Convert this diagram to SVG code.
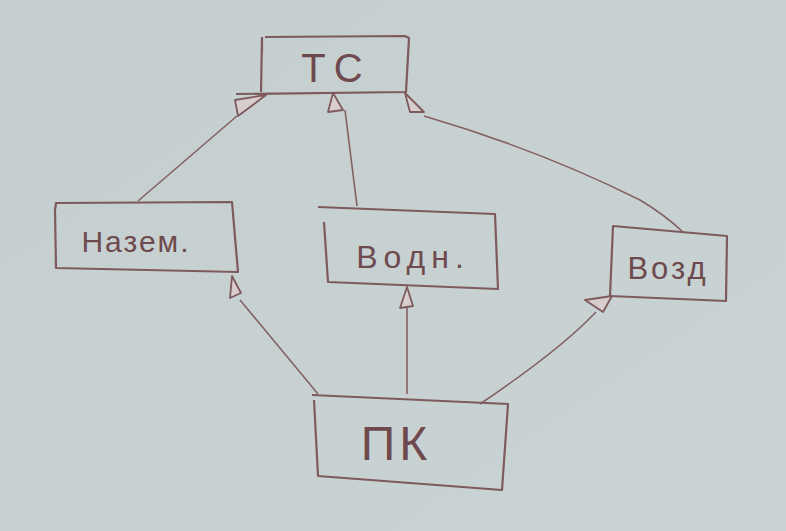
<svg xmlns="http://www.w3.org/2000/svg" width="786" height="531" viewBox="0 0 786 531">
<defs>
<style>
.box{fill:none;stroke:#7e5a5d;stroke-width:2.2;stroke-linejoin:round}
.ln{fill:none;stroke:#846163;stroke-width:1.6}
.tri{fill:#d8cdcf;stroke:#7e5a5d;stroke-width:1.8;stroke-linejoin:round}
.lbl{font-family:"Liberation Sans","DejaVu Sans",sans-serif;fill:#6e4a4e;text-anchor:middle}
</style>
<linearGradient id="bg" x1="0" y1="0" x2="1" y2="1">
<stop offset="0" stop-color="#c6cfcf"/>
<stop offset="1" stop-color="#c9d3d3"/>
</linearGradient>
</defs>
<rect width="786" height="531" fill="url(#bg)"/>

<g id="connectors">
<path class="ln" d="M237 116 L138 201"/>
<path class="tri" d="M235 100 L266 95 L238 116 Z"/>
<path class="ln" d="M345 110 L357 206"/>
<path class="tri" d="M333 93 L328 112 L343 110 Z"/>
<path class="ln" d="M424 116 Q540 150 640 200 Q665 215 683 232"/>
<path class="tri" d="M405 93 L410 112 L424 112 Z"/>
<path class="ln" d="M240 300 L318 394"/>
<path class="tri" d="M232 276 L230 298 L241 293 Z"/>
<path class="ln" d="M407 394 L407 307"/>
<path class="tri" d="M407 287 L400 308 L413 306 Z"/>
<path class="ln" d="M480 404 Q560 350 596 312"/>
<path class="tri" d="M612 296 L585 300 L603 312 Z"/>
</g>

<g id="node-ts">
<path class="box" d="M262 38 L261 92 M262 52 L262 37 M265 37 L405 36 L409 38 L406 92 L236 94"/>
<text class="lbl" x="336" y="82" font-size="40" letter-spacing="8">ТС</text>
</g>

<g id="node-nazem">
<path class="box" d="M55 210 L56 268 L238 272 L232 202 L56 203 Z"/>
<text class="lbl" x="136" y="252" font-size="30" letter-spacing="2">Назем.</text>
</g>

<g id="node-vodn">
<path class="box" d="M318 207 L495 214 L498 289 L328 282 L324 222"/>
<text class="lbl" x="413" y="268" font-size="32" letter-spacing="6">Водн.</text>
</g>

<g id="node-vozd">
<path class="box" d="M613 226 L727 236 L726 301 L610 296 Z"/>
<text class="lbl" x="668" y="279" font-size="31" letter-spacing="3">Возд</text>
</g>

<g id="node-pk">
<path class="box" d="M312 395 L508 404 L502 490 L318 476 L314 400"/>
<text class="lbl" x="396" y="460" font-size="48" letter-spacing="4">ПК</text>
</g>
</svg>
